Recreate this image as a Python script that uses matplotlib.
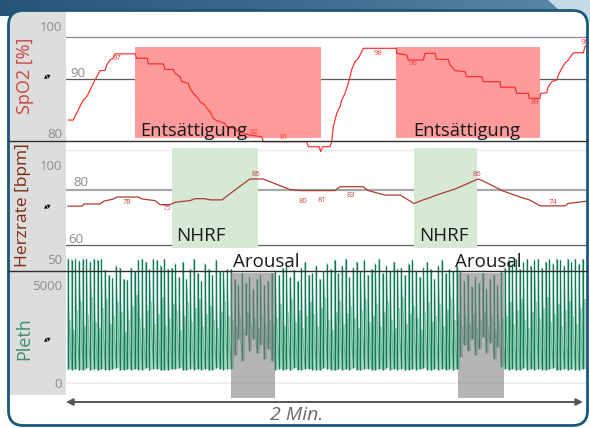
import numpy as np
import matplotlib
matplotlib.use('Agg')
import matplotlib.pyplot as plt
from matplotlib.patches import Rectangle, FancyBboxPatch, Polygon
from matplotlib.colors import LinearSegmentedColormap

plt.rcParams['font.family'] = ['Open Sans', 'DejaVu Sans']

# ---------------- data ----------------
# SpO2 [%] over time [s]
spo2_t = [0.53, 1.69, 2.09, 2.85, 3.41, 4.02, 4.80, 5.41, 6.34, 7.13, 7.89, 9.05, 9.45, 10.21,
          10.98, 11.37, 16.02, 16.41, 18.87, 19.10, 22.58, 22.98, 24.91, 25.30, 26.46, 26.86,
          28.39, 28.78, 29.55, 30.71, 31.10, 32.26, 32.66, 33.42, 33.82, 34.19, 34.98, 36.91,
          37.30, 39.23, 39.99, 42.71, 45.42, 45.80, 55.87, 56.24, 58.72, 59.12, 59.54, 61.28,
          61.67, 62.04, 62.83, 63.60, 63.99, 64.76, 65.53, 65.92, 66.31, 67.08, 67.85, 68.63,
          69.01, 76.60, 76.76, 79.08, 79.45, 82.93, 83.33, 85.65, 86.04, 88.73, 89.13, 90.29,
          92.61, 93.01, 96.49, 96.86, 100.74, 100.90, 104.22, 104.61, 107.31, 107.54, 110.02,
          110.18, 111.57, 111.95, 112.74, 113.90, 114.27, 115.06, 115.82, 116.59, 117.38,
          117.75, 120.07, 120.47, 121.16]
spo2_v = [85.1, 85.1, 85.8, 86.9, 87.8, 88.7, 89.3, 90.2, 91.7, 92.9, 94.0, 94.0, 95.0, 95.9,
          96.2, 97.0, 97.0, 96.2, 96.2, 95.2, 95.2, 94.2, 94.2, 93.5, 92.9, 92.0,
          91.7, 90.8, 89.9, 89.0, 88.4, 87.8, 87.2, 86.6, 86.0, 85.4, 85.0, 84.5,
          83.9, 83.6, 83.0, 82.4, 82.1, 81.2, 81.2, 80.3, 80.3, 79.4, 80.3, 80.3,
          81.2, 83.9, 86.3, 87.5, 88.7, 89.9, 91.7, 92.9, 94.2, 95.6, 96.2, 97.4,
          98.0, 98.0, 97.1, 96.8, 95.9, 95.9, 97.1, 97.1, 96.0, 96.0, 95.0, 94.0,
          93.8, 92.9, 92.9, 92.0, 92.0, 91.0, 91.0, 89.9, 89.9, 89.0, 89.0,
          89.9, 90.0, 91.1, 92.0, 92.3, 93.2, 94.4, 95.3, 95.9, 96.8,
          97.2, 97.2, 98.3, 98.8]
spo2_labels = [(11.8, "97"), (43.6, "82"), (50.6, "81"), (58.9, "79"),
               (72.4, "98"), (80.5, "96"), (108.9, "89"), (120.4, "98")]
spo2_label_v = [96.2, 82.9, 81.9, 80.5, 97.1, 95.2, 88.2, 99.0]

# Heart rate [bpm]
hr_t = [0.46, 3.71, 4.18, 7.89, 8.82, 10.91, 11.84, 16.71, 17.64, 20.66, 21.82, 24.14, 25.30,
        28.78, 29.94, 32.26, 33.42, 36.21, 40.39, 42.71, 45.73, 46.89, 51.99, 54.31, 62.44,
        63.60, 68.94, 70.10, 74.04, 77.53, 78.69, 80.77, 82.17, 86.81, 90.29, 95.63, 96.79,
        101.43, 105.38, 107.70, 110.02, 115.82, 116.52, 119.30, 120.93]
hr_v = [74.7, 74.7, 75.6, 75.6, 76.8, 77.6, 78.5, 78.5, 77.7, 77.0, 75.3, 75.3, 76.3,
        77.0, 77.8, 77.8, 77.3, 77.3, 83.0, 86.0, 86.0, 85.2, 81.6, 81.2, 81.2,
        82.8, 82.8, 81.2, 79.3, 79.3, 78.1, 75.8, 76.8, 79.8, 81.8, 86.0, 85.2,
        81.0, 78.5, 77.2, 74.8, 74.8, 75.8, 76.4, 76.8]
hr_labels = [(14.2, "78"), (23.5, "75"), (44.1, "86"), (55.0, "80"), (59.4, "81"),
             (66.1, "83"), (95.4, "86"), (113.0, "74")]
hr_label_v = [76.0, 73.9, 87.7, 76.8, 77.2, 79.3, 87.7, 76.0]

# Pleth beats
pleth_peak = [6440, 6400, 6440, 6350, 6440, 6440, 6300, 6440, 6400, 6440,
              5870, 5600, 5460, 6100, 6000, 5400, 5350,
              6000, 5800, 6390, 6440, 6280, 5900, 6440, 6390, 6100, 6440, 5900, 5970, 6200,
              5500, 6280, 5400, 5900, 6440, 5700, 5300, 6200, 5900, 5600, 6390, 5800, 5770, 5900,
              5900, 5400, 5100, 5700, 5200, 5500, 4900, 5400, 5600, 5100, 5300, 5700,
              5800, 5600, 5970, 6100, 5500, 5870, 5300, 6000, 6280, 5600, 5700, 6100, 5400, 5800, 6200,
              5900, 6390, 5700, 6100, 6440, 5500, 6000, 6280, 5800, 6390, 5600, 5900, 6200, 6440, 5700,
              6100, 5800, 6300, 5900,
              6000, 5600, 6200, 6390, 5800, 5500, 6000, 6280, 5900, 5400, 6100, 6390, 5700, 5900, 5800, 6100,
              5800, 5300, 5600, 5000, 5500, 5200, 5700, 4900, 5400, 5600, 5100, 5800,
              6000, 6390, 6200, 6440, 5900, 6300, 6440, 6100, 6390, 6440, 6000, 6300, 6440, 6200,
              6440, 6390, 6100, 6440, 6300, 6440, 6200, 6440]
pleth_trough = [760, 720, 780, 700, 740, 800, 720, 760, 700, 780, 740, 720, 760, 800, 700, 740,
                780, 720, 760, 700, 740, 800, 720, 780, 760, 700, 740, 720, 780, 760, 800, 720,
                700, 760, 740, 780, 720, 760, 700, 740, 800, 760, 720, 780,
                760, 1500, 2300, 1200, 2500, 1700, 2300, 1600, 2000, 1300, 1800, 1200,
                740, 780, 720, 760, 700, 800, 740, 720, 760, 780, 700, 740, 720, 800, 760, 740,
                700, 780, 720, 760, 740, 800, 720, 700, 760, 780, 740, 720, 760, 700, 800, 740,
                780, 720, 760, 700, 740, 780, 720, 760, 800, 740, 700, 760, 720, 780, 740, 760,
                700, 780,
                1400, 2000, 1700, 2300, 1500, 1800, 2400, 1600, 2100, 1300, 1900, 900,
                760, 720, 780, 700, 740, 800, 720, 760, 700, 780, 740, 720, 760, 800, 700, 740,
                780, 720, 760, 700, 740, 780]
pleth_mid = [3300, 2800, 3800, 4300, 3000, 3600, 4500, 3200, 2900, 3900, 4400, 3100, 3500, 4200,
             3700, 2700, 3300, 4000, 4600, 3400, 2900, 3800, 4300, 3100, 3600, 4500, 3000, 3400,
             4100, 3800, 2800, 3500, 4200, 3200, 3900, 4400, 3000, 3600, 4000, 3300, 2900, 3700,
             4300, 3500,
             3300, 3000, 3500, 2800, 3700, 3100, 3400, 2900, 3600, 3000, 3300, 3100,
             3400, 4100, 3000, 3700, 4400, 3200, 3800, 2900, 3500, 4200, 3600, 3000, 3900, 4500,
             3300, 2800, 3700, 4300, 3100, 3600, 4000, 3400, 2900, 3800, 4400, 3200, 3500, 4100,
             3000, 3700, 4300, 3300, 2900, 3900, 4500, 3100, 3600, 4000, 3400, 2800, 3700, 4200,
             3200, 3500, 4100, 3000, 3800, 4400, 3300, 3600,
             3000, 3400, 3100, 3600, 2900, 3300, 3700, 3000, 3500, 2800, 3200, 3400,
             3500, 4200, 3100, 3800, 4400, 3300, 2900, 3700, 4300, 3400, 3900, 4500, 3200, 3600,
             4100, 3000, 3800, 4300, 3500, 3100, 3900, 4400]

desat_spans = [(16.0, 59.2), (76.6, 110.0)]
nhrf_spans = [(24.6, 44.6), (80.8, 95.4)]
arousal_spans = [(38.3, 48.5), (91.0, 101.7)]

# ---------------- figure ----------------
W, H, DPI = 590, 428, 100
fig = plt.figure(figsize=(W / DPI, H / DPI), dpi=DPI)
fig.patch.set_facecolor('white')

bg = fig.add_axes([0, 0, 1, 1], zorder=0)
bg.axis('off')
grad = np.linspace(0, 1, 256).reshape(1, -1)
cm = LinearSegmentedColormap.from_list('g', ['#27557a', '#3b6c8e', '#5a8aa8'])
bg.imshow(grad, extent=[0, W, 16, 0], aspect='auto', cmap=cm, zorder=0)
bg.add_patch(Polygon([(548, 0), (590, 0), (590, 22), (572, 22)], closed=True,
                     fc='#c6d9e7', ec='none', zorder=1))
bg.set_xlim(0, W); bg.set_ylim(H, 0)

panel = FancyBboxPatch((8.5, 10.5), 579, 415, boxstyle="round,pad=0,rounding_size=15",
                       fc='white', ec='none', zorder=2)
bg.add_patch(panel)
grey = Rectangle((8, 10), 58, 385, fc='#dddddd', ec='none', zorder=3)
bg.add_patch(grey)
grey.set_clip_path(panel)


def rect(x0, y0, x1, y1):
    return [x0 / W, 1 - y1 / H, (x1 - x0) / W, (y1 - y0) / H]


XMAX = 121.16
ax_s = fig.add_axes(rect(66, 12, 588, 141), zorder=3)
ax_h = fig.add_axes(rect(66, 141, 588, 271), zorder=2)
ax_p = fig.add_axes(rect(66, 271, 588, 395), zorder=4)
for a in (ax_s, ax_h, ax_p):
    a.set_facecolor('none')
    a.set_xlim(0, XMAX)
    a.set_xticks([]); a.set_yticks([])
    for sp in a.spines.values():
        sp.set_visible(False)

ax_s.set_ylim(81.33, 104.53)
ax_h.set_ylim(47.67, 101.83)
ax_p.set_ylim(-566, 5820)

# horizontal reference lines (positions as seen in the picture, axes fraction)
ax_s.plot([0, 1], [0.806, 0.806], transform=ax_s.transAxes, color='#8a8a8a', lw=0.9, zorder=1)
ax_s.plot([0, 1], [0.481, 0.481], transform=ax_s.transAxes, color='#5a5a5a', lw=0.9, zorder=1)
ax_h.plot([0, 1], [0.931, 0.931], transform=ax_h.transAxes, color='#ececec', lw=1.0, zorder=1)
ax_h.plot([0, 1], [0.623, 0.623], transform=ax_h.transAxes, color='#a8a8a8', lw=1.6, zorder=1)
ax_h.plot([0, 1], [0.20, 0.20], transform=ax_h.transAxes, color='#5e5e5e', lw=0.9, zorder=1)
ax_p.plot([0, 1], [0.097, 0.097], transform=ax_p.transAxes, color='#eeeeee', lw=1.2, zorder=1)

# SpO2 panel
for a0, a1 in desat_spans:
    ax_s.add_patch(Rectangle((a0, 81.87), a1 - a0, 98.23 - 81.87, fc='#ff9b9b', ec='none', zorder=2))
ax_s.plot(spo2_t, spo2_v, color='#ff2b2b', lw=0.85, zorder=3, clip_on=False)
for (tx, s), vy in zip(spo2_labels, spo2_label_v):
    ax_s.text(tx, vy, s, color='#ff3b3b', fontsize=5.5, ha='center', va='center', zorder=4,
              clip_on=True)

# HR panel
for a0, a1 in nhrf_spans:
    ax_h.add_patch(Rectangle((a0, 57.25), a1 - a0, 98.9 - 57.25, fc='#d6e9d5', ec='none', zorder=2))
ax_h.plot(hr_t, hr_v, color='#b03a32', lw=0.9, zorder=3)
for (tx, s), vy in zip(hr_labels, hr_label_v):
    ax_h.text(tx, vy, s, color='#c04848', fontsize=5.5, ha='center', va='center', zorder=4)

# Pleth panel
n = min(len(pleth_peak), len(pleth_trough), len(pleth_mid))
pk = np.array(pleth_peak[:n], float)
tr = np.array(pleth_trough[:n], float)
md = np.array(pleth_mid[:n], float)
bt = np.linspace(0.46, 119.9, n)
dt = bt[1] - bt[0]
ax_p.bar(bt + 0.5 * dt, md - tr, bottom=tr, width=0.62 * dt, color='#a6d5c1', lw=0,
         zorder=2, clip_on=False)
# waveform outline: trough -> peak -> mid -> next trough
wx, wy = [], []
for i in range(n):
    wx += [bt[i], bt[i], bt[i] + 0.3 * dt]
    wy += [tr[i], pk[i], md[i]]
ax_p.plot(wx, wy, color='#6ab597', lw=0.6, zorder=3, clip_on=False)
ax_p.vlines(bt, tr, pk, color='#0e7a55', lw=0.95, zorder=4, clip_on=False)
for a0, a1 in arousal_spans:
    ax_p.add_patch(Rectangle((a0, -721), a1 - a0, 5717 + 721, fc='#7f7f7f', alpha=0.58,
                             ec='none', zorder=5, clip_on=False))

# ---------------- overlay (pixel coords) ----------------
ov = fig.add_axes([0, 0, 1, 1], zorder=6)
ov.set_xlim(0, W); ov.set_ylim(H, 0); ov.axis('off')
ov.set_facecolor('none')

for yy in (141, 271):
    ov.plot([8, 588], [yy, yy], color='#2e2e2e', lw=1.0, solid_capstyle='butt')

tick_c = '#8c8c8c'
tfs = 9.5
for x, y, s, ha in [(62, 27, '100', 'right'), (70, 73, '90', 'left'), (62, 134, '80', 'right'),
                    (62, 167, '100', 'right'), (73, 182, '80', 'left'), (68, 239, '60', 'left'),
                    (62, 260, '50', 'right'), (62, 287, '5000', 'right'), (62, 384, '0', 'right')]:
    ov.text(x, y, s, color=tick_c, fontsize=tfs, ha=ha, va='center')

ov.text(25, 76, 'SpO2 [%]', rotation=90, color='#c9463f', fontsize=13, ha='center', va='center')
ov.text(23, 205, 'Herzrate [bpm]', rotation=90, color='#7e2a10', fontsize=12.5, ha='center', va='center')
ov.text(24, 339, 'Pleth', rotation=90, color='#3d8f6a', fontsize=13, ha='center', va='center')
for y in (76, 206, 339):
    ov.text(48, y, '\u25b2\u25bc', fontsize=3.5, color='black', ha='center', va='center',
            family='DejaVu Sans')

for x in (140, 413):
    ov.text(x, 131, 'Entsättigung', fontsize=13.2, color='#1a1a1a', ha='left', va='center')
for x in (176, 419):
    ov.text(x, 236, 'NHRF', fontsize=13.5, color='#1a1a1a', ha='left', va='center')
for x in (233, 455):
    ov.text(x, 262, 'Arousal', fontsize=13.5, color='#1a1a1a', ha='left', va='center')

ov.annotate('', xy=(583, 402), xytext=(66, 402),
            arrowprops=dict(arrowstyle='<|-|>', color='#555555', lw=1.4, mutation_scale=10,
                            shrinkA=0, shrinkB=0))
ov.text(297, 415, '2 Min.', fontsize=14, style='italic', color='#6a6a6a', ha='center', va='center')

border = FancyBboxPatch((8.5, 10.5), 579, 415, boxstyle="round,pad=0,rounding_size=15",
                        fc='none', ec='#1c5877', lw=2.0)
ov.add_patch(border)

fig.savefig('out.png', dpi=DPI)
